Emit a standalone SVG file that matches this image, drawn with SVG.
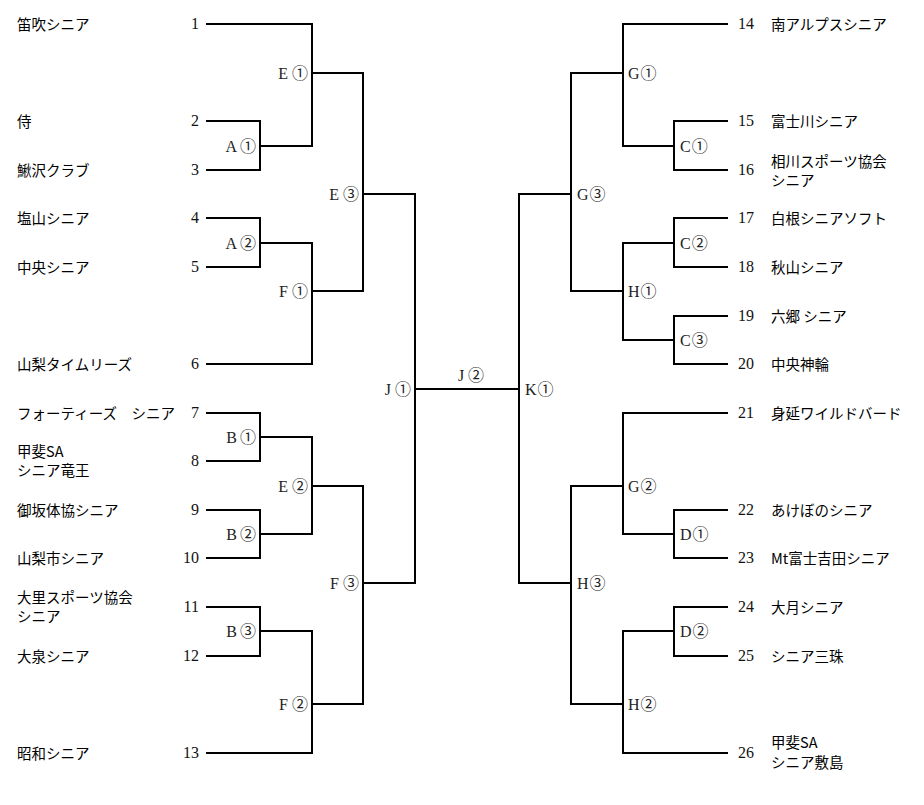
<svg xmlns="http://www.w3.org/2000/svg" width="924" height="805" viewBox="0 0 924 805">
<style>
.bg{fill:#ffffff}
.ln{fill:none;stroke:#000;stroke-width:2;stroke-linecap:square}
.nm{font-family:"Noto Sans CJK JP","Noto Sans",sans-serif;font-size:14.5px;fill:#000}
.no{font-family:"Liberation Serif","Noto Sans CJK JP",serif;font-size:16px;fill:#111}
.nl{text-anchor:end}
.mt{font-family:"Liberation Serif","Noto Sans CJK JP",serif;font-size:16px;fill:#222}
.ml{text-anchor:end}
.mc{text-anchor:middle}
</style>
<rect class="bg" x="0" y="0" width="924" height="805"/>
<g id="connectors">
<path class="ln" d="M207,121 H260 V170 H207 M260,146 H312"/>
<path class="ln" d="M207,24 H312 V146 M312,73 H363"/>
<path class="ln" d="M207,218 H260 V267 H207 M260,243 H312"/>
<path class="ln" d="M312,243 V364 H207 M312,291 H363"/>
<path class="ln" d="M363,73 V291 M363,194 H415"/>
<path class="ln" d="M207,413 H260 V461 H207 M260,437 H312"/>
<path class="ln" d="M207,510 H260 V558 H207 M260,534 H312"/>
<path class="ln" d="M312,437 V534 M312,486 H363"/>
<path class="ln" d="M207,607 H260 V656 H207 M260,631 H312"/>
<path class="ln" d="M312,631 V753 H207 M312,704 H363"/>
<path class="ln" d="M363,486 V704 M363,583 H415"/>
<path class="ln" d="M415,194 V583 M415,389 H519"/>
<path class="ln" d="M519,194 V583"/>
<path class="ln" d="M519,194 H571 M571,73 V291"/>
<path class="ln" d="M571,73 H623 M727,24 H623 V146"/>
<path class="ln" d="M623,146 H674 M727,121 H674 V170 H727"/>
<path class="ln" d="M571,291 H623 M623,243 V340"/>
<path class="ln" d="M623,243 H674 M727,218 H674 V267 H727"/>
<path class="ln" d="M623,340 H674 M727,316 H674 V364 H727"/>
<path class="ln" d="M519,583 H571 M571,486 V704"/>
<path class="ln" d="M571,486 H623 M727,413 H623 V534"/>
<path class="ln" d="M623,534 H674 M727,510 H674 V558 H727"/>
<path class="ln" d="M571,704 H623 M623,631 V753 H727"/>
<path class="ln" d="M623,631 H674 M727,607 H674 V656 H727"/>
</g>
<g id="team1"><text class="nm" x="17" y="29.5">笛吹シニア</text><text class="no nl" x="199" y="29">1</text></g>
<g id="team2"><text class="nm" x="17" y="126.5">侍</text><text class="no nl" x="199" y="126">2</text></g>
<g id="team3"><text class="nm" x="17" y="175.5">鰍沢クラブ</text><text class="no nl" x="199" y="175">3</text></g>
<g id="team4"><text class="nm" x="17" y="223.5">塩山シニア</text><text class="no nl" x="199" y="223">4</text></g>
<g id="team5"><text class="nm" x="17" y="272.5">中央シニア</text><text class="no nl" x="199" y="272">5</text></g>
<g id="team6"><text class="nm" x="17" y="369.5">山梨タイムリーズ</text><text class="no nl" x="199" y="369">6</text></g>
<g id="team7"><text class="nm" x="17" y="418.5">フォーティーズ　シニア</text><text class="no nl" x="199" y="418">7</text></g>
<g id="team8"><text class="nm" x="17" y="456.5">甲斐SA</text><text class="nm" x="17" y="476">シニア竜王</text><text class="no nl" x="199" y="466">8</text></g>
<g id="team9"><text class="nm" x="17" y="515.5">御坂体協シニア</text><text class="no nl" x="199" y="515">9</text></g>
<g id="team10"><text class="nm" x="17" y="563.5">山梨市シニア</text><text class="no nl" x="199" y="563">10</text></g>
<g id="team11"><text class="nm" x="17" y="602.5">大里スポーツ協会</text><text class="nm" x="17" y="622">シニア</text><text class="no nl" x="199" y="612">11</text></g>
<g id="team12"><text class="nm" x="17" y="661.5">大泉シニア</text><text class="no nl" x="199" y="661">12</text></g>
<g id="team13"><text class="nm" x="17" y="758.5">昭和シニア</text><text class="no nl" x="199" y="758">13</text></g>
<g id="team14"><text class="no" x="738" y="29">14</text><text class="nm" x="771" y="29.5">南アルプスシニア</text></g>
<g id="team15"><text class="no" x="738" y="126">15</text><text class="nm" x="771" y="126.5">富士川シニア</text></g>
<g id="team16"><text class="no" x="738" y="175">16</text><text class="nm" x="771" y="166.5">相川スポーツ協会</text><text class="nm" x="771" y="186">シニア</text></g>
<g id="team17"><text class="no" x="738" y="223">17</text><text class="nm" x="771" y="223.5">白根シニアソフト</text></g>
<g id="team18"><text class="no" x="738" y="272">18</text><text class="nm" x="771" y="272.5">秋山シニア</text></g>
<g id="team19"><text class="no" x="738" y="321">19</text><text class="nm" x="771" y="321.5">六郷 シニア</text></g>
<g id="team20"><text class="no" x="738" y="369">20</text><text class="nm" x="771" y="369.5">中央神輪</text></g>
<g id="team21"><text class="no" x="738" y="418">21</text><text class="nm" x="771" y="418.5">身延ワイルドバード</text></g>
<g id="team22"><text class="no" x="738" y="515">22</text><text class="nm" x="771" y="515.5">あけぼのシニア</text></g>
<g id="team23"><text class="no" x="738" y="563">23</text><text class="nm" x="771" y="563.5">Mt富士吉田シニア</text></g>
<g id="team24"><text class="no" x="738" y="612">24</text><text class="nm" x="771" y="612.5">大月シニア</text></g>
<g id="team25"><text class="no" x="738" y="661">25</text><text class="nm" x="771" y="661.5">シニア三珠</text></g>
<g id="team26"><text class="no" x="738" y="758">26</text><text class="nm" x="771" y="748">甲斐SA</text><text class="nm" x="771" y="767.5">シニア敷島</text></g>
<g id="matchA1"><text class="mt ml" x="256" y="151.5">A<tspan dx="3">①</tspan></text></g>
<g id="matchA2"><text class="mt ml" x="256" y="248.5">A<tspan dx="3">②</tspan></text></g>
<g id="matchB1"><text class="mt ml" x="256" y="442.5">B<tspan dx="3">①</tspan></text></g>
<g id="matchB2"><text class="mt ml" x="256" y="539.5">B<tspan dx="3">②</tspan></text></g>
<g id="matchB3"><text class="mt ml" x="256" y="636.5">B<tspan dx="3">③</tspan></text></g>
<g id="matchE1"><text class="mt ml" x="308" y="78.5">E<tspan dx="4">①</tspan></text></g>
<g id="matchF1"><text class="mt ml" x="308" y="296.5">F<tspan dx="4">①</tspan></text></g>
<g id="matchE2"><text class="mt ml" x="308" y="491.5">E<tspan dx="4">②</tspan></text></g>
<g id="matchF2"><text class="mt ml" x="308" y="709.5">F<tspan dx="4">②</tspan></text></g>
<g id="matchE3"><text class="mt ml" x="359" y="199.5">E<tspan dx="4">③</tspan></text></g>
<g id="matchF3"><text class="mt ml" x="359" y="588.5">F<tspan dx="4">③</tspan></text></g>
<g id="matchJ1"><text class="mt ml" x="411" y="394.5">J<tspan dx="4">①</tspan></text></g>
<g id="matchJ2"><text class="mt mc" x="471" y="381">J<tspan dx="4">②</tspan></text></g>
<g id="matchK1"><text class="mt" x="525" y="394.5">K<tspan dx="1">①</tspan></text></g>
<g id="matchG3"><text class="mt" x="577" y="199.5">G<tspan dx="1">③</tspan></text></g>
<g id="matchH3"><text class="mt" x="577" y="588.5">H<tspan dx="1">③</tspan></text></g>
<g id="matchG1"><text class="mt" x="628" y="78.5">G<tspan dx="1">①</tspan></text></g>
<g id="matchH1"><text class="mt" x="628" y="296.5">H<tspan dx="1">①</tspan></text></g>
<g id="matchG2"><text class="mt" x="628" y="491.5">G<tspan dx="1">②</tspan></text></g>
<g id="matchH2"><text class="mt" x="628" y="709.5">H<tspan dx="1">②</tspan></text></g>
<g id="matchC1"><text class="mt" x="680" y="151.5">C<tspan dx="1">①</tspan></text></g>
<g id="matchC2"><text class="mt" x="680" y="248.5">C<tspan dx="1">②</tspan></text></g>
<g id="matchC3"><text class="mt" x="680" y="345.5">C<tspan dx="1">③</tspan></text></g>
<g id="matchD1"><text class="mt" x="680" y="539.5">D<tspan dx="1">①</tspan></text></g>
<g id="matchD2"><text class="mt" x="680" y="636.5">D<tspan dx="1">②</tspan></text></g>
</svg>
